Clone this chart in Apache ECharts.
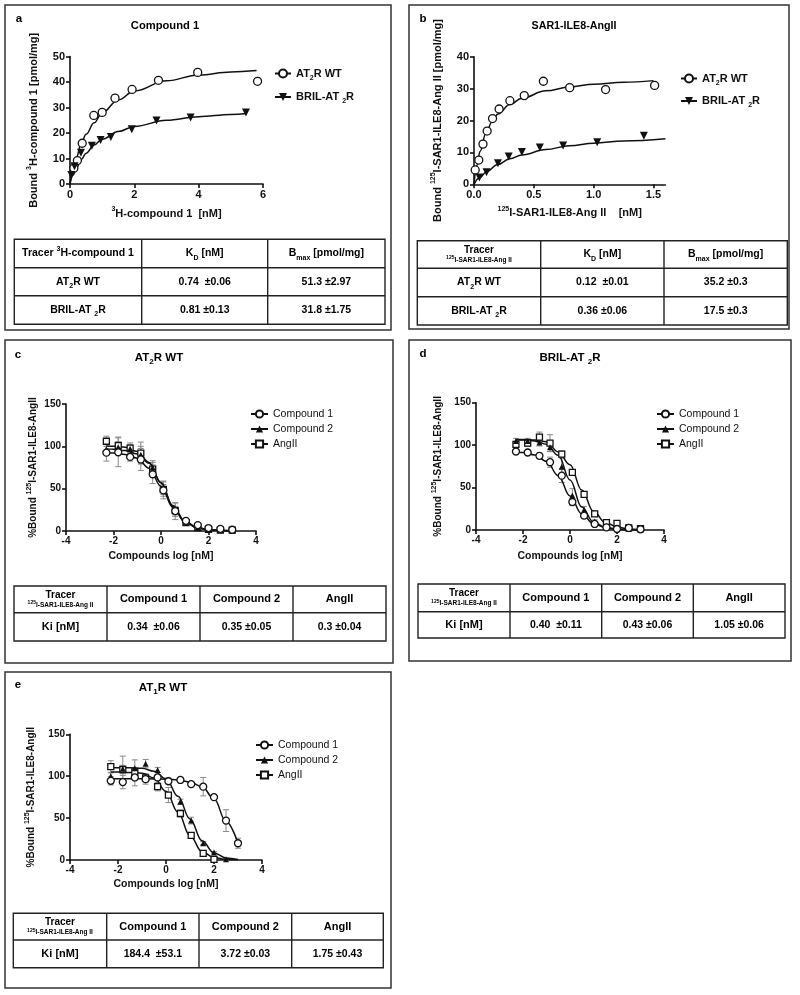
<!DOCTYPE html>
<html><head><meta charset="utf-8">
<title>Binding curves</title>
<script src="https://cdn.jsdelivr.net/npm/echarts@6/dist/echarts.min.js"></script>
<style>html,body{margin:0;padding:0;background:#fff}#g1{width:800px;height:995px}</style>
</head>
<body>
<div id="g1"></div>
<script type="text/javascript">
// ---------- panel a : saturation, compound 1 ----------
var aWtX = [0.12, 0.23, 0.38, 0.74, 1.0, 1.4, 1.93, 2.75, 3.97, 5.83];
var aWtY = [6.2, 9.2, 16, 26.9, 28.1, 33.7, 37.1, 40.7, 43.8, 40.3];
var aBrX = [0.04, 0.14, 0.34, 0.68, 0.95, 1.27, 1.92, 2.69, 3.75, 5.47];
var aBrY = [3.5, 7, 12.3, 15, 17.3, 18.4, 21.5, 24.9, 26.1, 28.1];
var aFitX = [0, 0.1, 0.2, 0.35, 0.5, 0.75, 1, 1.5, 2, 3, 4, 5, 5.8];
var aFitWt = [0, 6, 10.5, 16, 19.5, 24, 28, 33, 36.5, 40.5, 42.8, 44, 44.5];
var aFitBrX = [0, 0.1, 0.2, 0.35, 0.5, 0.75, 1, 1.5, 2, 3, 4, 5, 5.5];
var aFitBr = [0, 3.5, 6.3, 9.6, 12.1, 15.3, 17.6, 20.6, 22.6, 25, 26.4, 27.3, 27.7];

// ---------- panel b : saturation, SAR1-ILE8-AngII ----------
var bWtX = [0.01, 0.04, 0.075, 0.11, 0.155, 0.21, 0.30, 0.42, 0.58, 0.80, 1.10, 1.51];
var bWtY = [4.5, 7.6, 12.6, 16.7, 20.6, 23.6, 26.2, 27.8, 32.3, 30.3, 29.7, 31.0];
var bBrX = [0.045, 0.105, 0.2, 0.29, 0.40, 0.55, 0.745, 1.03, 1.42];
var bBrY = [2.1, 3.8, 6.6, 8.7, 10.1, 11.5, 12.2, 13.2, 15.2];
var bFitWtX = [0, 0.025, 0.05, 0.1, 0.15, 0.2, 0.3, 0.4, 0.6, 0.8, 1.0, 1.25, 1.5];
var bFitWt = [0, 6, 10.3, 16, 19.5, 22, 25, 27, 29.3, 30.5, 31.4, 32, 32.5];
var bFitBrX = [0, 0.05, 0.1, 0.2, 0.3, 0.4, 0.6, 0.8, 1.0, 1.25, 1.6];
var bFitBr = [0, 2.1, 3.8, 6.2, 8, 9.2, 10.9, 12.1, 12.9, 13.6, 14.3];

// ---------- competition panels c, d, e (shared log doses) ----------
var logX = [-2.3, -1.8, -1.3, -0.85, -0.35, 0.1, 0.6, 1.05, 1.55, 2.0, 2.5, 3.0];
var fitX = [-2.3, -2, -1.5, -1, -0.5, 0, 0.5, 1, 1.5, 2, 2.5, 3];

var cC1 = [92.5, 93, 87.5, 84.5, 67, 48, 23.5, 12, 7, 3.5, 2.5, 1.5];
var cC1e = [10, 17, 5, 13, 11, 10, 10, 3, 2, 1, 1, 1];
var cC2 = [96.5, 99, 97, 90, 75, 50, 25, 11, 4, 2, 1, 0.5];
var cC2e = [6, 6, 5, 10, 8, 9, 8, 2, 1, 1, 1, 0.5];
var cAng = [106, 101, 98, 92, 73, 49, 24, 10, 4, 2, 1, 1];
var cAnge = [6, 10, 6, 13, 8, 6, 5, 2, 1, 1, 0.5, 0.5];
var cFitC1 = [92.5, 92, 90.5, 86, 74, 53, 28, 11, 4, 1.5, 0.6, 0.2];
var cFitC2 = [97, 96.5, 95, 91, 80, 57, 30, 12, 4.5, 1.6, 0.6, 0.2];
var cFitAng = [100.5, 100, 99, 94, 81, 57, 29, 11, 4, 1.4, 0.5, 0.2];

var dC1 = [92.5, 91.3, 87.4, 79.9, 64, 33, 16.9, 7.1, 3.1, 1.2, 2.4, 0.8];
var dC1e = [2, 2, 3, 6, 8, 4, 3, 2, 1, 1, 1, 0.5];
var dC2 = [105, 105, 103, 97.6, 74.6, 40.7, 23.8, 10, 4.3, 2, 1.5, 1];
var dC2e = [3, 3, 4, 5, 10, 8, 4, 2, 1, 1, 1, 0.5];
var dAng = [101, 102.3, 109.4, 102.3, 89.3, 68, 42, 18.9, 8.7, 7.9, 2.4, 1.6];
var dAnge = [3, 4, 6, 10, 4, 3, 3, 3, 2, 2, 1, 1];
var dFitC1 = [92, 91.3, 88.5, 81, 64, 40, 19, 7.5, 2.8, 1, 0.4, 0.2];
var dFitC2 = [106, 106, 105, 101, 88, 59, 27, 9.5, 3, 1, 0.4, 0.2];
var dFitAng = [106.5, 106.5, 106, 104, 92, 77, 47, 22, 9, 3.5, 1.2, 0.4];

var eC1 = [94.5, 93, 98.5, 96.5, 98.5, 94, 95.5, 90.5, 87.5, 75, 47, 20];
var eC1e = [5, 8, 10, 6, 3, 3, 2, 3, 11, 3, 13, 6];
var eC2 = [100, 109, 109.5, 115, 107.5, 96, 69.5, 47, 20, 9, 1, null];
var eC2e = [4, 15, 10, 5, 3, 2, 3, 4, 2, 1, 1, 0];
var eAng = [111.5, 108, 105, 98, 87.5, 77.5, 55.5, 29.5, 8, 0.8, null, null];
var eAnge = [7, 5, 5, 5, 5, 9, 4, 3, 2, 1, 0, 0];
var eFitC1 = [97, 97, 97, 96.9, 96.8, 96.5, 95.5, 93, 87.5, 73, 46, 20];
var eFitC2 = [110, 110, 110, 109.5, 106, 97, 76, 49, 23, 8.5, 2.5, 0.6];
var eFitAng = [105, 105, 104.5, 103.5, 98, 82, 57, 29, 10, 3, 0.8, 0.3];

// ---------- tables ----------
var tabAHead = ['{n|Tracer }{p|3}{n|H-compound 1}', '{n|K}{s|D}{n| [nM]}', '{n|B}{s|max}{n| [pmol/mg]}'];
var tabARows = [['{n|AT}{s|2}{n|R WT}', '{n|0.74  ±0.06}', '{n|51.3 ±2.97}'],
                ['{n|BRIL-AT }{s|2}{n|R}', '{n|0.81 ±0.13}', '{n|31.8 ±1.75}']];
var tracerHead = '{t|Tracer}\n{tp|125}{tn|I-SAR1-ILE8-Ang II}';
var tabBHead = [tracerHead, '{n|K}{s|D}{n| [nM]}', '{n|B}{s|max}{n| [pmol/mg]}'];
var tabBRows = [['{n|AT}{s|2}{n|R WT}', '{n|0.12  ±0.01}', '{n|35.2 ±0.3}'],
                ['{n|BRIL-AT }{s|2}{n|R}', '{n|0.36 ±0.06}', '{n|17.5 ±0.3}']];
var kiHead = [tracerHead, '{h|Compound 1}', '{h|Compound 2}', '{h|AngII}'];
var tabCRow = ['{h|Ki [nM]}', '{n|0.34  ±0.06}', '{n|0.35 ±0.05}', '{n|0.3 ±0.04}'];
var tabDRow = ['{h|Ki [nM]}', '{n|0.40  ±0.11}', '{n|0.43 ±0.06}', '{n|1.05 ±0.06}'];
var tabERow = ['{h|Ki [nM]}', '{n|184.4  ±53.1}', '{n|3.72 ±0.03}', '{n|1.75 ±0.43}'];

var FONT = 'Liberation Sans, Arial, sans-serif';
var INK = '#111';

function richSet(sz, bold) {
    var w = bold ? 'bold' : 'normal';
    var sm = Math.round(sz * 0.68);
    return {
        n: {fontSize: sz, fontWeight: w, fontFamily: FONT, color: INK, lineHeight: sz + 5},
        h: {fontSize: sz + 0.5, fontWeight: w, fontFamily: FONT, color: INK, lineHeight: sz + 5},
        s: {fontSize: sm, fontWeight: w, fontFamily: FONT, color: INK, lineHeight: sm + 1, verticalAlign: 'bottom'},
        p: {fontSize: sm, fontWeight: w, fontFamily: FONT, color: INK, lineHeight: sm + 1, verticalAlign: 'top'},
        t: {fontSize: 10, fontWeight: 'bold', fontFamily: FONT, color: INK, lineHeight: 11},
        tn: {fontSize: 6.5, fontWeight: 'bold', fontFamily: FONT, color: INK, lineHeight: 9},
        tp: {fontSize: 5, fontWeight: 'bold', fontFamily: FONT, color: INK, lineHeight: 6, verticalAlign: 'top'}
    };
}

function pairs(xs, ys) {
    var out = [];
    for (var i = 0; i < xs.length; i++) if (ys[i] != null) out.push([xs[i], ys[i]]);
    return out;
}
function bars(xs, ys, es) {
    var out = [];
    for (var i = 0; i < xs.length; i++) if (ys[i] != null && es[i] > 0) out.push([xs[i], ys[i] - es[i], ys[i] + es[i]]);
    return out;
}

function errItem(params, api) {
    var x = api.value(0);
    var p1 = api.coord([x, api.value(2)]), p2 = api.coord([x, api.value(1)]);
    var st = {stroke: '#8a8a8a', lineWidth: 1};
    return {type: 'group', children: [
        {type: 'line', shape: {x1: p1[0], y1: p1[1], x2: p2[0], y2: p2[1]}, style: st},
        {type: 'line', shape: {x1: p1[0] - 3, y1: p1[1], x2: p1[0] + 3, y2: p1[1]}, style: st},
        {type: 'line', shape: {x1: p2[0] - 3, y1: p2[1], x2: p2[0] + 3, y2: p2[1]}, style: st}
    ]};
}

var axLine = {show: true, onZero: false, lineStyle: {color: INK, width: 1.6}};
var axTick = {show: true, length: 4, lineStyle: {color: INK, width: 1.6}};
function axLabel(sz) {
    return {color: INK, fontFamily: FONT, fontWeight: 'bold', fontSize: sz, margin: 5};
}

function xAx(gi, min, max, interval, name, gap, sz, tsz, extra) {
    var o = {type: 'value', gridIndex: gi, min: min, max: max, interval: interval,
        axisLine: axLine, axisTick: axTick, axisLabel: axLabel(tsz), splitLine: {show: false},
        name: name, nameLocation: 'middle', nameGap: gap, nameTextStyle: {rich: richSet(sz, true)}};
    return Object.assign(o, extra || {});
}
function yAx(gi, min, max, interval, name, gap, sz, tsz) {
    return {type: 'value', gridIndex: gi, min: min, max: max, interval: interval,
        axisLine: axLine, axisTick: axTick, axisLabel: axLabel(tsz), splitLine: {show: false},
        name: name, nameLocation: 'middle', nameGap: gap, nameTextStyle: {rich: richSet(sz, true)}};
}

// open symbols: white fill with dark outline
function symStyle(sym) {
    if (sym === 'circle' || sym === 'rect') return {color: '#fff', borderColor: INK, borderWidth: 1.3, opacity: 1};
    return {color: INK, borderWidth: 0, opacity: 1};
}

var series = [];
function fit(gi, name, xs, ys, sym, rot) {
    series.push({type: 'line', name: name, xAxisIndex: gi, yAxisIndex: gi, data: pairs(xs, ys),
        smooth: 0.4, smoothMonotone: 'x', showSymbol: false, symbol: sym, symbolRotate: rot || 0,
        lineStyle: {color: INK, width: 1.5}, itemStyle: {color: INK}, z: 2, silent: true});
}
function pts(gi, xs, ys, sym, size, rot) {
    series.push({type: 'scatter', name: 'pts' + series.length, xAxisIndex: gi, yAxisIndex: gi,
        data: pairs(xs, ys), symbol: sym, symbolSize: size, symbolRotate: rot || 0, clip: false,
        itemStyle: symStyle(sym), z: 3, silent: true});
}
function errs(gi, xs, ys, es) {
    series.push({type: 'custom', name: 'err' + series.length, xAxisIndex: gi, yAxisIndex: gi,
        data: bars(xs, ys, es), renderItem: errItem, encode: {x: 0, y: [1, 2]}, z: 1, silent: true});
}

// panel a
fit(0, 'AT2R WT', aFitX, aFitWt, 'emptyCircle');
fit(0, 'BRIL-AT2R', aFitBrX, aFitBr, 'triangle', 180);
pts(0, aWtX, aWtY, 'circle', 8);
pts(0, aBrX, aBrY, 'triangle', 8, 180);
// panel b
fit(1, 'AT2R WT', bFitWtX, bFitWt, 'emptyCircle');
fit(1, 'BRIL-AT2R', bFitBrX, bFitBr, 'triangle', 180);
pts(1, bWtX, bWtY, 'circle', 8);
pts(1, bBrX, bBrY, 'triangle', 8, 180);
// panels c, d, e
var comp = [[cC1, cC1e, cC2, cC2e, cAng, cAnge, cFitC1, cFitC2, cFitAng],
            [dC1, dC1e, dC2, dC2e, dAng, dAnge, dFitC1, dFitC2, dFitAng],
            [eC1, eC1e, eC2, eC2e, eAng, eAnge, eFitC1, eFitC2, eFitAng]];
comp.forEach(function (p, k) {
    var gi = k + 2;
    errs(gi, logX, p[0], p[1]);
    errs(gi, logX, p[2], p[3]);
    errs(gi, logX, p[4], p[5]);
    fit(gi, 'Compound 1', fitX, p[6], 'emptyCircle');
    fit(gi, 'Compound 2', fitX, p[7], 'triangle');
    fit(gi, 'AngII', fitX, p[8], 'emptyRect');
    pts(gi, logX, p[4], 'rect', 6);
    pts(gi, logX, p[2], 'triangle', 6);
    pts(gi, logX, p[0], 'circle', 7);
});

var legendNames = {'AT2R WT': '{n|AT}{s|2}{n|R WT}', 'BRIL-AT2R': '{n|BRIL-AT }{s|2}{n|R}'};
function legendAB(left, top, gap) {
    return {orient: 'vertical', left: left, top: top, padding: 0, itemGap: gap, itemWidth: 16, itemHeight: 10,
        selectedMode: false, data: ['AT2R WT', 'BRIL-AT2R'],
        formatter: function (n) { return legendNames[n]; }, textStyle: {rich: richSet(11, true)}};
}
function legendCmp(left, top) {
    return {orient: 'vertical', left: left, top: top, padding: 0, itemGap: 4, itemWidth: 17, itemHeight: 9,
        selectedMode: false, data: ['Compound 1', 'Compound 2', 'AngII'],
        formatter: '{n|{name}}', textStyle: {rich: richSet(10.5, false)}};
}

// ---------- graphic: frames, letters, titles, tables ----------
var graphics = [];
var LS = {stroke: '#333', lineWidth: 1.5, fill: null};
function frame(x1, y1, x2, y2) {
    graphics.push({type: 'rect', shape: {x: x1, y: y1, width: x2 - x1, height: y2 - y1}, style: LS, silent: true});
}
function txt(x, y, text, sz, bold) {
    graphics.push({type: 'text', x: x, y: y, silent: true,
        style: {text: text, rich: richSet(sz, bold), align: 'center', verticalAlign: 'middle'}});
}
function table(xs, ys, rows, sz) {
    var lst = {stroke: '#222', lineWidth: 1.4};
    graphics.push({type: 'rect', shape: {x: xs[0], y: ys[0], width: xs[xs.length - 1] - xs[0], height: ys[ys.length - 1] - ys[0]}, style: {stroke: '#222', lineWidth: 1.4, fill: null}, silent: true});
    for (var i = 1; i < xs.length - 1; i++)
        graphics.push({type: 'line', shape: {x1: xs[i], y1: ys[0], x2: xs[i], y2: ys[ys.length - 1]}, style: lst, silent: true});
    for (var j = 1; j < ys.length - 1; j++)
        graphics.push({type: 'line', shape: {x1: xs[0], y1: ys[j], x2: xs[xs.length - 1], y2: ys[j]}, style: lst, silent: true});
    rows.forEach(function (row, r) {
        row.forEach(function (cell, c) {
            txt((xs[c] + xs[c + 1]) / 2, (ys[r] + ys[r + 1]) / 2, cell, sz, true);
        });
    });
}

frame(5, 5, 391, 330);
frame(409, 5, 789, 329);
frame(5, 340, 393, 663);
frame(409, 340, 791, 661);
frame(5, 672, 391, 988);

txt(19, 19, '{n|a}', 11.5, true);
txt(423, 19, '{n|b}', 11.5, true);
txt(18, 355, '{n|c}', 11.5, true);
txt(423, 354, '{n|d}', 11.5, true);
txt(18, 685, '{n|e}', 11.5, true);

txt(165, 26, '{n|Compound 1}', 11.2, true);
txt(574, 26, '{n|SAR1-ILE8-AngII}', 10.7, true);
txt(159, 358, '{n|AT}{s|2}{n|R WT}', 11.5, true);
txt(570, 358, '{n|BRIL-AT }{s|2}{n|R}', 11.5, true);
txt(163, 688, '{n|AT}{s|1}{n|R WT}', 11.5, true);

table([14.3, 141.7, 267.7, 385], [239.3, 267.7, 295.7, 324.3], [tabAHead].concat(tabARows), 10.5);
table([417.3, 540.7, 664, 787.3], [240.7, 268.3, 296.7, 325], [tabBHead].concat(tabBRows), 10.5);
table([14, 107, 200, 293, 386], [586, 612.7, 641], [kiHead, tabCRow], 10.5);
table([418, 510, 601.7, 693.3, 785], [584, 611.7, 638], [kiHead, tabDRow], 10.5);
table([13.3, 106.7, 199, 291.7, 383.3], [913.3, 940, 967.7], [kiHead, tabERow], 10.5);

var yNameCmp = '{n|%Bound }{p|125}{n|I-SAR1-ILE8-AngII}';
var xNameCmp = '{n|Compounds log [nM]}';

var option = {
    animation: false,
    grid: [
        {left: 70, top: 56.6, width: 193, height: 127.4, outerBoundsMode: 'none'},
        {left: 474, top: 56.7, width: 191.4, height: 127.6, outerBoundsMode: 'none'},
        {left: 66, top: 404, width: 190, height: 127, outerBoundsMode: 'none'},
        {left: 476, top: 402.7, width: 188, height: 127.3, outerBoundsMode: 'none'},
        {left: 70, top: 734.3, width: 192, height: 125.7, outerBoundsMode: 'none'}
    ],
    xAxis: [
        xAx(0, 0, 6, 2, '{p|3}{n|H-compound 1  [nM]}', 22, 11, 11),
        xAx(1, 0, 1.6, 0.5, '{p|125}{n|I-SAR1-ILE8-Ang II    [nM]}', 21, 11, 11, {
            axisTick: Object.assign({customValues: [0, 0.5, 1, 1.5]}, axTick),
            axisLabel: Object.assign({customValues: [0, 0.5, 1, 1.5], formatter: function (v) { return v.toFixed(1); }}, axLabel(11))
        }),
        xAx(2, -4, 4, 2, xNameCmp, 17, 10.5, 10),
        xAx(3, -4, 4, 2, xNameCmp, 18, 10.5, 10),
        xAx(4, -4, 4, 2, xNameCmp, 16, 10.5, 10)
    ],
    yAxis: [
        yAx(0, 0, 50, 10, '{n|Bound }{p|3}{n|H-compound 1 [pmol/mg]}', 28, 11, 11),
        yAx(1, 0, 40, 10, '{n|Bound }{p|125}{n|I-SAR1-ILE8-Ang II [pmol/mg]}', 28, 11, 11),
        yAx(2, 0, 150, 50, yNameCmp, 25, 10, 10),
        yAx(3, 0, 150, 50, yNameCmp, 30, 10, 10),
        yAx(4, 0, 150, 50, yNameCmp, 31, 10, 10)
    ],
    legend: [legendAB(274, 68, 10), legendAB(680, 73, 9), legendCmp(250, 408.5), legendCmp(656, 408.5), legendCmp(255, 739.5)],
    series: series,
    graphic: graphics
};

var myChart = echarts.init(document.getElementById('g1'));
myChart.setOption(option);
</script>
</body></html>
